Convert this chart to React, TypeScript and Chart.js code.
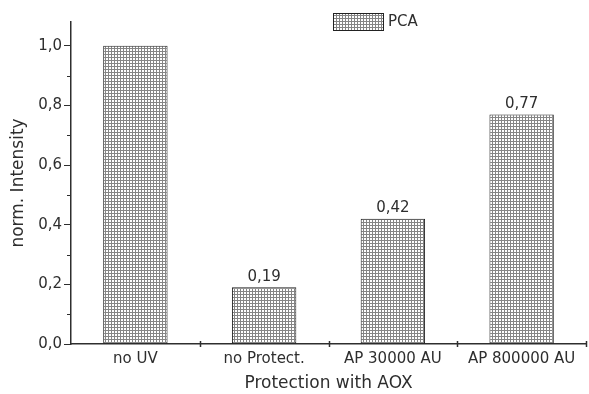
import React, { useEffect, useRef } from "react";
import { Chart, registerables } from "chart.js";

Chart.register(...registerables);

const categories = ["no UV", "no Protect.", "AP 30000 AU", "AP 800000 AU"];
const pcaValues = [1.0, 0.19, 0.42, 0.77];
const valueLabels = ["", "0,19", "0,42", "0,77"];
const yTickValues = [0, 0.2, 0.4, 0.6, 0.8, 1.0];
const yMinorValues = [0.1, 0.3, 0.5, 0.7, 0.9];
const seriesName = "PCA";

const FONT = "'DejaVu Sans', sans-serif";
const TEXT = "#2e2e2e";

function makePattern(): CanvasPattern | string {
  const c = document.createElement("canvas");
  c.width = 3;
  c.height = 3;
  const g = c.getContext("2d");
  if (!g) return "#bbb";
  g.fillStyle = "#ffffff";
  g.fillRect(0, 0, 3, 3);
  g.fillStyle = "#858585";
  g.fillRect(0, 0, 3, 1);
  g.fillRect(0, 0, 1, 3);
  const p = g.createPattern(c, "repeat");
  return p || "#bbb";
}

export default function App() {
  const ref = useRef<HTMLCanvasElement | null>(null);

  useEffect(() => {
    document.body.style.margin = "0";
    const canvas = ref.current;
    if (!canvas) return;
    const pattern = makePattern();

    const extras = {
      id: "extras",
      afterDraw(chart: any) {
        const ctx = chart.ctx;
        const y = chart.scales.y;
        const x = chart.scales.x;
        const area = chart.chartArea;
        ctx.save();
        ctx.strokeStyle = TEXT;
        ctx.lineWidth = 1;
        // minor ticks on y axis
        yMinorValues.forEach((v) => {
          const py = Math.round(y.getPixelForValue(v)) + 0.5;
          ctx.beginPath();
          ctx.moveTo(area.left - 4, py);
          ctx.lineTo(area.left, py);
          ctx.stroke();
        });
        // x ticks at category boundaries, crossing axis
        ctx.lineWidth = 1.5;
        for (let i = 1; i <= categories.length; i++) {
          const px = Math.round(x.getPixelForValue(i - 0.5)) + 0.5;
          ctx.beginPath();
          ctx.moveTo(px, area.bottom - 3);
          ctx.lineTo(px, area.bottom + 3);
          ctx.stroke();
        }
        // value labels
        const meta = chart.getDatasetMeta(0);
        ctx.fillStyle = TEXT;
        ctx.font = "15px " + FONT;
        ctx.textAlign = "center";
        ctx.textBaseline = "bottom";
        meta.data.forEach((bar: any, i: number) => {
          const t = valueLabels[i];
          if (t) ctx.fillText(t, bar.x, bar.y - 3);
        });
        // legend
        const lx = 333, ly = 13, lw = 50, lh = 17;
        ctx.fillStyle = pattern as any;
        ctx.fillRect(lx, ly, lw, lh);
        ctx.lineWidth = 1;
        ctx.strokeStyle = "#222";
        ctx.strokeRect(lx + 0.5, ly + 0.5, lw, lh);
        ctx.fillStyle = TEXT;
        ctx.font = "15px " + FONT;
        ctx.textAlign = "left";
        ctx.textBaseline = "middle";
        ctx.fillText(seriesName, lx + lw + 5, ly + lh / 2 + 1);
        ctx.restore();
      },
    };

    const chart = new Chart(canvas, {
      type: "bar",
      data: {
        labels: categories,
        datasets: [
          {
            label: seriesName,
            data: pcaValues,
            backgroundColor: pattern as any,
            borderColor: "#222",
            borderWidth: 1,
            borderSkipped: false,
            barPercentage: 0.5,
            categoryPercentage: 1.0,
          },
        ],
      },
      options: {
        animation: false,
        responsive: false,
        maintainAspectRatio: false,
        layout: { padding: { top: 22, right: 3, left: 0, bottom: 0 } },
        plugins: {
          legend: { display: false },
          tooltip: { enabled: false },
        },
        scales: {
          x: {
            grid: {
              offset: true,
              drawOnChartArea: false,
              drawTicks: true,
              tickLength: 4,
              color: "rgba(0,0,0,0)",
            },
            border: { display: true, color: TEXT, width: 1.5 },
            ticks: {
              color: TEXT,
              font: { family: FONT, size: 15 },
              padding: 2,
              maxRotation: 0,
            },
            title: {
              display: true,
              text: "Protection with AOX",
              color: TEXT,
              font: { family: FONT, size: 17 },
              padding: { top: 2, bottom: 0 },
            },
            afterFit(scale: any) {
              scale.height = 50;
            },
          },
          y: {
            min: 0,
            max: 1.08,
            grid: {
              drawOnChartArea: false,
              drawTicks: true,
              tickLength: 7,
              color: TEXT,
            },
            border: { display: true, color: TEXT, width: 1.5 },
            ticks: {
              stepSize: 0.2,
              includeBounds: false,
              color: TEXT,
              font: { family: FONT, size: 15 },
              padding: 2,
              callback: (v: any) => Number(v).toFixed(1).replace(".", ","),
            },
            afterBuildTicks(scale: any) {
              scale.ticks = yTickValues.map((v) => ({ value: v }));
            },
            title: {
              display: true,
              text: "norm. Intensity",
              color: TEXT,
              font: { family: FONT, size: 17 },
              padding: { top: 8, bottom: 4 },
            },
            afterFit(scale: any) {
              scale.width = 71;
            },
          },
        },
      },
      plugins: [extras],
    });
    return () => chart.destroy();
  }, []);

  return (
    <div style={{ position: "absolute", left: 0, top: 0, width: 589, height: 394, background: "#fff" }}>
      <canvas ref={ref} width={589} height={394} style={{ display: "block" }} />
    </div>
  );
}
